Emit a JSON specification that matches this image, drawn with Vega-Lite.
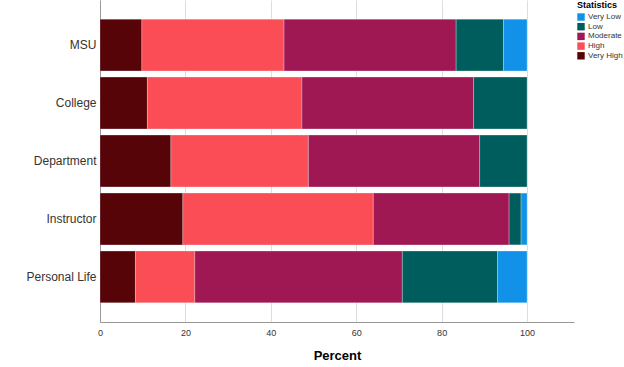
{
  "$schema": "https://vega.github.io/schema/vega-lite/v6.json",
  "width": 474,
  "height": 322,
  "autosize": {"type": "none"},
  "padding": {"left": 100, "top": 0, "right": 50, "bottom": 45},
  "background": "white",
  "config": {
    "font": "Liberation Sans",
    "view": {"stroke": null}
  },
  "data": {
    "values": [
      {"cat": "MSU", "level": "Very High", "ord": 1, "pct": 9.8},
      {"cat": "MSU", "level": "High", "ord": 2, "pct": 33.3},
      {"cat": "MSU", "level": "Moderate", "ord": 3, "pct": 40.3},
      {"cat": "MSU", "level": "Low", "ord": 4, "pct": 11.1},
      {"cat": "MSU", "level": "Very Low", "ord": 5, "pct": 5.5},
      {"cat": "College", "level": "Very High", "ord": 1, "pct": 11.1},
      {"cat": "College", "level": "High", "ord": 2, "pct": 36.2},
      {"cat": "College", "level": "Moderate", "ord": 3, "pct": 40.2},
      {"cat": "College", "level": "Low", "ord": 4, "pct": 12.5},
      {"cat": "Department", "level": "Very High", "ord": 1, "pct": 16.6},
      {"cat": "Department", "level": "High", "ord": 2, "pct": 32.2},
      {"cat": "Department", "level": "Moderate", "ord": 3, "pct": 40.1},
      {"cat": "Department", "level": "Low", "ord": 4, "pct": 11.1},
      {"cat": "Instructor", "level": "Very High", "ord": 1, "pct": 19.4},
      {"cat": "Instructor", "level": "High", "ord": 2, "pct": 44.6},
      {"cat": "Instructor", "level": "Moderate", "ord": 3, "pct": 31.8},
      {"cat": "Instructor", "level": "Low", "ord": 4, "pct": 2.8},
      {"cat": "Instructor", "level": "Very Low", "ord": 5, "pct": 1.4},
      {"cat": "Personal Life", "level": "Very High", "ord": 1, "pct": 8.3},
      {"cat": "Personal Life", "level": "High", "ord": 2, "pct": 13.9},
      {"cat": "Personal Life", "level": "Moderate", "ord": 3, "pct": 48.6},
      {"cat": "Personal Life", "level": "Low", "ord": 4, "pct": 22.3},
      {"cat": "Personal Life", "level": "Very Low", "ord": 5, "pct": 6.9}
    ]
  },
  "mark": {"type": "bar", "stroke": "white", "strokeWidth": 0.5, "strokeOpacity": 0.5},
  "encoding": {
    "y": {
      "field": "cat",
      "type": "nominal",
      "sort": ["MSU", "College", "Department", "Instructor", "Personal Life"],
      "scale": {"paddingInner": 0.107, "paddingOuter": 0.33},
      "axis": {
        "title": null,
        "ticks": false,
        "domainColor": "#999999",
        "labelFont": "Liberation Sans",
        "labelFontSize": 12,
        "labelColor": "#333333",
        "labelPadding": 4
      }
    },
    "x": {
      "field": "pct",
      "type": "quantitative",
      "stack": "zero",
      "scale": {"domain": [0, 111], "nice": false},
      "axis": {
        "values": [0, 20, 40, 60, 80, 100],
        "title": "Percent",
        "titleFont": "Liberation Sans",
        "titleFontSize": 13,
        "titleFontWeight": "bold",
        "titleColor": "#000000",
        "titlePadding": 12,
        "ticks": false,
        "labelFlush": false,
        "labelFontSize": 9,
        "labelColor": "#333333",
        "labelPadding": 6,
        "domainColor": "#999999",
        "grid": true,
        "gridColor": "#dddddd"
      }
    },
    "color": {
      "field": "level",
      "type": "nominal",
      "scale": {
        "domain": ["Very Low", "Low", "Moderate", "High", "Very High"],
        "range": ["#1192E8", "#005D5D", "#9F1853", "#FA4D56", "#570408"]
      },
      "legend": {
        "title": "Statistics",
        "orient": "none",
        "legendX": 477,
        "legendY": 1,
        "padding": 0,
        "titleFontSize": 9,
        "titleFontWeight": "bold",
        "titleColor": "#000000",
        "titlePadding": 3,
        "labelFontSize": 8,
        "labelColor": "#333333",
        "labelLimit": 60,
        "symbolType": "square",
        "symbolSize": 55,
        "symbolStrokeWidth": 0,
        "rowPadding": 1.7,
        "labelOffset": 3
      }
    },
    "order": {"field": "ord", "type": "quantitative"}
  }
}
